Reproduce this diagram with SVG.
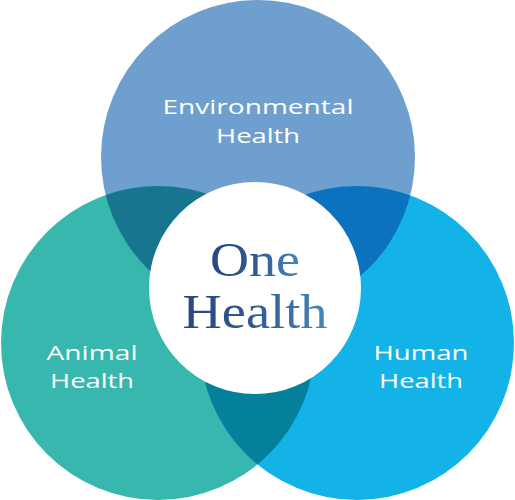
<svg xmlns="http://www.w3.org/2000/svg" width="515" height="500" viewBox="0 0 515 500">
<defs>
<clipPath id="cTop"><circle cx="258" cy="157" r="157"/></clipPath>
<clipPath id="cLeft"><circle cx="158" cy="343" r="157"/></clipPath>
<linearGradient id="oneGrad" x1="0" y1="0" x2="1" y2="0">
<stop offset="0" stop-color="#2B4680"/>
<stop offset="0.5" stop-color="#2F5A92"/>
<stop offset="1" stop-color="#4688B8"/>
</linearGradient>
<style>
.lbl{font-family:"Open Sans","Liberation Sans",sans-serif;font-size:20.5px;fill:#FFFFFF;text-anchor:middle}
.one{font-family:"Liberation Serif","DejaVu Serif",serif;font-size:49px;fill:url(#oneGrad);text-anchor:middle}
</style>
</defs>
<g id="environmental">
<circle cx="258" cy="157" r="157" fill="#6F9FCE"/>
</g>
<g id="animal">
<circle cx="158" cy="343" r="157" fill="#38B7AE"/>
</g>
<g id="human">
<circle cx="357" cy="343" r="157" fill="#14B3E7"/>
</g>
<g id="overlaps">
<circle cx="158" cy="343" r="157" fill="#17758F" clip-path="url(#cTop)"/>
<circle cx="357" cy="343" r="157" fill="#0A72BE" clip-path="url(#cTop)"/>
<circle cx="357" cy="343" r="157" fill="#05809A" clip-path="url(#cLeft)"/>
</g>
<g id="center">
<circle cx="255" cy="288" r="106" fill="#FFFFFF"/>
<text class="one" x="255" y="276" textLength="90" lengthAdjust="spacingAndGlyphs">One</text>
<text class="one" x="255" y="328" textLength="145" lengthAdjust="spacingAndGlyphs">Health</text>
</g>
<g id="labels">
<text class="lbl" x="258" y="114" textLength="191" lengthAdjust="spacingAndGlyphs">Environmental</text>
<text class="lbl" x="258" y="143" textLength="84" lengthAdjust="spacingAndGlyphs">Health</text>
<text class="lbl" x="92" y="360" textLength="91" lengthAdjust="spacingAndGlyphs">Animal</text>
<text class="lbl" x="92" y="388" textLength="84" lengthAdjust="spacingAndGlyphs">Health</text>
<text class="lbl" x="421" y="360" textLength="95" lengthAdjust="spacingAndGlyphs">Human</text>
<text class="lbl" x="421" y="388" textLength="84" lengthAdjust="spacingAndGlyphs">Health</text>
</g>
</svg>
